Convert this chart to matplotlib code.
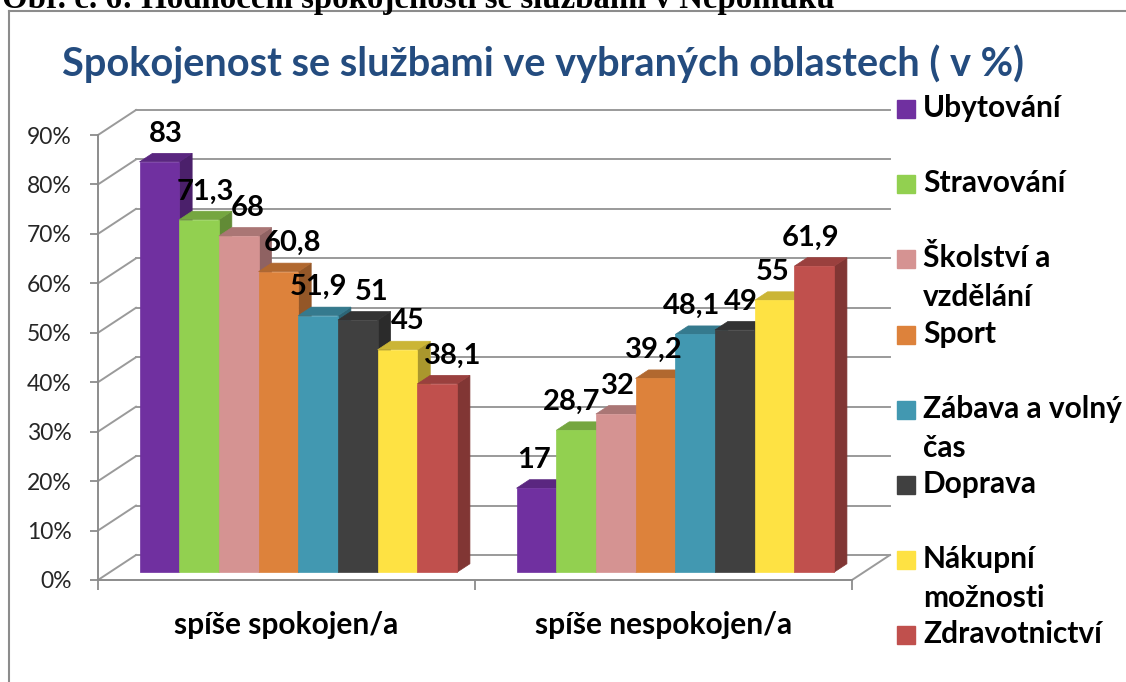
import matplotlib
matplotlib.use("Agg")

import numpy as np
import matplotlib.pyplot as plt
from matplotlib.patches import Rectangle
from matplotlib.lines import Line2D
from matplotlib.colors import to_rgb

# ---------- data ----------
CAPTION = "Obr. č. 6: Hodnocení spokojenosti se službami v Nepomuku"
TITLE = "Spokojenost se službami ve vybraných oblastech ( v %)"
CATEGORIES = ["spíše spokojen/a", "spíše nespokojen/a"]
SERIES = ["Ubytování", "Stravování", "Školství a\nvzdělání", "Sport",
          "Zábava a volný\nčas", "Doprava", "Nákupní\nmožnosti", "Zdravotnictví"]
COLORS = ["#7030A0", "#92D050", "#D59392", "#DD823B",
          "#4298B1", "#404040", "#FEE243", "#C0504D"]
VAL_SPOKOJEN = [83, 71.3, 68, 60.8, 51.9, 51, 45, 38.1]
VAL_NESPOKOJEN = [17, 28.7, 32, 39.2, 48.1, 49, 55, 61.9]
Y_TICKS = [0, 10, 20, 30, 40, 50, 60, 70, 80, 90]

# ---------- style / geometry ----------
W, H = 1126, 682
FONT = ["Lato", "DejaVu Sans"]
GRID_C = "#9A9A9A"
AXIS_C = "#8C8C8C"
TITLE_C = "#244C7F"

F0, F1 = 0.31, 0.65        # bar depth range (fraction of floor depth)
GROUP_W = 9.5              # slots per category
# data-label horizontal nudges (bar widths), as Excel placed them
LABEL_SHIFT = [[0.15, 0.15, 0.22, 0.35, 0.0, 0.35, 0.25, 0.40],
               [-0.05, -0.10, 0.05, -0.05, -0.10, 0.15, -0.05, -0.08]]

plt.rcParams["font.family"] = FONT


def fx(px):
    return px / W


def fy(py):
    return 1 - py / H


def shade(c, k):
    r, g, b = to_rgb(c)
    return (r * k, g * k, b * k)


def fmt(v):
    return f"{v:g}".replace(".", ",")


fig = plt.figure(figsize=(W / 100, H / 100), dpi=100)
renderer = fig.canvas.get_renderer()


def fit_width(t, target_px):
    w = t.get_window_extent(renderer=renderer).width
    t.set_fontsize(t.get_fontsize() * target_px / w)


# chart frame
fig.add_artist(Line2D([fx(9), fx(9)], [fy(11), 0], color=AXIS_C, lw=1.5))
fig.add_artist(Line2D([fx(9), 1], [fy(11), fy(11)], color=AXIS_C, lw=1.5))

# caption above chart (cut off at top, as in the source page)
cap = fig.text(fx(2), fy(8), CAPTION, ha="left", va="baseline", fontsize=20,
               family="Liberation Serif", weight="bold", color="black")
fit_width(cap, 833)

# title
tt = fig.text(fx(543), fy(77), TITLE, ha="center", va="baseline",
              fontsize=25, weight="bold", color=TITLE_C)
fit_width(tt, 963)

# ---------- axes ----------
n_slots = GROUP_W * len(CATEGORIES)
ax = fig.add_axes([fx(98), fy(580), (852 - 98) / W, (580 - 135) / H])
ax.set_xlim(0, n_slots)
ax.set_ylim(0, 90)
ax.set_facecolor("none")

DX = 38 / ((852 - 98) / n_slots)
DY = 25 / (445 / 90)

# back wall + left wall lines
for v in Y_TICKS:
    ax.plot([DX, n_slots + DX], [v + DY, v + DY], color=GRID_C, lw=1.4,
            clip_on=False, zorder=1)
    ax.plot([0, DX], [v, v + DY], color=GRID_C, lw=1.4, clip_on=False, zorder=1)
ax.plot([n_slots, n_slots + DX], [0, DY], color=GRID_C, lw=1.4, clip_on=False, zorder=1)

# bars with fake 3D faces
values = np.array([VAL_SPOKOJEN, VAL_NESPOKOJEN])
group_starts = np.arange(len(CATEGORIES)) * GROUP_W + (GROUP_W - len(SERIES)) / 2
dd = (F1 - F0) * DX
for i, col in enumerate(COLORS):
    vals = values[:, i]
    lefts = group_starts + i + F0 * DX
    z = 3 + i
    for xl, v in zip(lefts, vals):
        side = [(xl + 1, F0 * DY), (xl + 1 + dd, F1 * DY),
                (xl + 1 + dd, v + F1 * DY), (xl + 1, v + F0 * DY)]
        top = [(xl, v + F0 * DY), (xl + 1, v + F0 * DY),
               (xl + 1 + dd, v + F1 * DY), (xl + dd, v + F1 * DY)]
        sc = shade(col, 0.67)
        tc = shade(col, 0.80)
        ax.fill(*zip(*side), color=sc, ec=sc, lw=0.5, zorder=z, clip_on=False)
        ax.fill(*zip(*top), color=tc, ec=tc, lw=0.5, zorder=z, clip_on=False)
    ax.bar(lefts, vals, width=1, bottom=F0 * DY, align="edge", color=col,
           ec=col, lw=0.5, zorder=z)
    for g, (xl, v) in enumerate(zip(lefts, vals)):
        ax.annotate(fmt(v), xy=(xl + 0.5 + LABEL_SHIFT[g][i], v + F1 * DY),
                    xytext=(0, 8.5), textcoords="offset points",
                    ha="center", va="baseline", fontsize=21, weight="bold",
                    color="black", zorder=30, annotation_clip=False)

# axes styling
for s in ["top", "right"]:
    ax.spines[s].set_visible(False)
for s in ["left", "bottom"]:
    ax.spines[s].set_color(AXIS_C)
    ax.spines[s].set_linewidth(1.4)

ax.set_yticks(Y_TICKS, labels=[f"{t}%" for t in Y_TICKS])
ax.tick_params(axis="y", length=6, width=1.3, color=AXIS_C, pad=13,
               labelsize=16.5, labelcolor="#262626")
ax.set_xticks([0, GROUP_W, n_slots], labels=[])
ax.tick_params(axis="x", length=7.5, width=1.3, color=AXIS_C)

for g, cat in enumerate(CATEGORIES):
    ax.annotate(cat, xy=(g * GROUP_W + GROUP_W / 2, 0),
                xytext=(0, -(634 - 580) * 0.72), textcoords="offset points",
                ha="center", va="baseline", fontsize=21.5, weight="bold",
                color="black", annotation_clip=False)

# ---------- legend (manual, to mimic Excel spacing) ----------
for k, (name, col) in enumerate(zip(SERIES, COLORS)):
    yc = 109 + 75.2 * k
    fig.add_artist(Rectangle((fx(897), fy(yc + 9)), 18 / W, 18 / H,
                             transform=fig.transFigure, color=col))
    for j, line in enumerate(name.split("\n")):
        fig.text(fx(923), fy(yc + 8 + 39 * j), line, ha="left", va="baseline",
                 fontsize=21.5, weight="bold", color="black")

fig.savefig("out.png", dpi=100)
plt.close(fig)
